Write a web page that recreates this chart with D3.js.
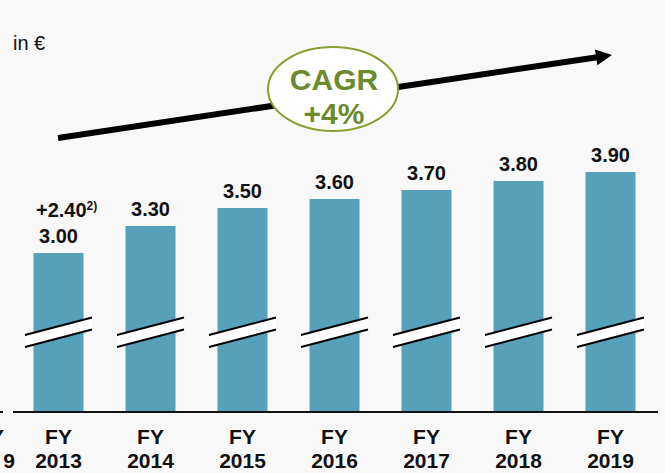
<!DOCTYPE html>
<html>
<head>
<meta charset="utf-8">
<script src="https://cdn.jsdelivr.net/npm/d3@7"></script>
<style>
  html, body { margin: 0; padding: 0; background: #f8f8f8; }
  svg { display: block; }
  text { font-family: Arial, "Liberation Sans", sans-serif; }
</style>
</head>
<body>
<script>
// ---- data ----
const years = ["2013", "2014", "2015", "2016", "2017", "2018", "2019"];
const values = [3.00, 3.30, 3.50, 3.60, 3.70, 3.80, 3.90];
const valueLabels = ["3.00", "3.30", "3.50", "3.60", "3.70", "3.80", "3.90"];
const specialYear = "2013";
const specialLabel = "+2.40";
const specialNote = "2)";
const unitLabel = "in €";
const cagrLines = ["CAGR", "+4%"];

// ---- layout ----
const W = 665, H = 473;
const baseY = 412;
const barW = 50;

const svg = d3.select("body").append("svg").attr("width", W).attr("height", H);
svg.append("rect").attr("width", W).attr("height", H).attr("fill", "#f8f8f8");

const x = d3.scalePoint().domain(years).range([58.5, 610.5]);
// broken value axis: 3.00 -> 253, 3.90 -> 172
const y = d3.scaleLinear().domain([3.0, 3.9]).range([253, 172]);

// unit
svg.append("text").attr("x", 13).attr("y", 50).attr("font-size", 20).attr("fill", "#111").text(unitLabel);

// bars
svg.selectAll("rect.bar").data(years).join("rect")
  .attr("class", "bar")
  .attr("x", d => x(d) - barW / 2)
  .attr("y", (d, i) => y(values[i]))
  .attr("width", barW)
  .attr("height", (d, i) => baseY - y(values[i]))
  .attr("fill", "#56a0b9");

// break marks
const brk = svg.append("g");
years.forEach(d => {
  const c = x(d);
  const x0 = c - 33.5, x1 = c + 33.5;
  brk.append("polygon")
    .attr("points", `${x0},335 ${x1},317.5 ${x1},329.5 ${x0},347`)
    .attr("fill", "#ffffff");
  brk.append("line").attr("x1", x0).attr("y1", 335).attr("x2", x1).attr("y2", 317.5)
    .attr("stroke", "#000").attr("stroke-width", 2);
  brk.append("line").attr("x1", x0).attr("y1", 347).attr("x2", x1).attr("y2", 329.5)
    .attr("stroke", "#000").attr("stroke-width", 2);
});

// axis line
svg.append("line").attr("x1", 13).attr("x2", 658).attr("y1", baseY).attr("y2", baseY)
  .attr("stroke", "#111").attr("stroke-width", 2);
svg.append("line").attr("x1", 0).attr("x2", 3).attr("y1", baseY).attr("y2", baseY)
  .attr("stroke", "#111").attr("stroke-width", 2);

// value labels
svg.selectAll("text.val").data(years).join("text")
  .attr("class", "val")
  .attr("x", d => x(d))
  .attr("y", (d, i) => y(values[i]) - 10)
  .attr("text-anchor", "middle")
  .attr("font-size", 20).attr("font-weight", "bold").attr("fill", "#111")
  .text((d, i) => valueLabels[i]);

// special dividend label
const sp = svg.append("text")
  .attr("x", x(specialYear) - 22.5)
  .attr("y", y(values[years.indexOf(specialYear)]) - 36.5)
  .attr("font-size", 20).attr("font-weight", "bold").attr("fill", "#111");
sp.append("tspan").text(specialLabel);
sp.append("tspan").attr("font-size", 12).attr("dy", -7).text(specialNote);

// x labels
const xl = svg.selectAll("g.xl").data(years).join("g").attr("class", "xl");
xl.append("text").attr("x", d => x(d)).attr("y", 444).attr("text-anchor", "middle")
  .attr("font-size", 21).attr("font-weight", "bold").attr("fill", "#111").text("FY");
xl.append("text").attr("x", d => x(d)).attr("y", 468).attr("text-anchor", "middle")
  .attr("font-size", 21).attr("font-weight", "bold").attr("fill", "#111").text(d => d);

// cut-off neighbouring label remnants at left edge
svg.append("text").attr("x", 4).attr("y", 444).attr("text-anchor", "end")
  .attr("font-size", 21).attr("font-weight", "bold").attr("fill", "#111").text("FY");
svg.append("text").attr("x", 15).attr("y", 468).attr("text-anchor", "end")
  .attr("font-size", 21).attr("font-weight", "bold").attr("fill", "#111").text("9");

// trend arrow
const ax0 = 58, ay0 = 138, tipX = 612, tipY = 55;
const ang = Math.atan2(tipY - ay0, tipX - ax0);
const hl = 16, hw = 8;
const bx = tipX - hl * Math.cos(ang), by = tipY - hl * Math.sin(ang);
svg.append("line").attr("x1", ax0).attr("y1", ay0).attr("x2", bx + 1 * Math.cos(ang)).attr("y2", by + 1 * Math.sin(ang))
  .attr("stroke", "#000").attr("stroke-width", 6);
svg.append("polygon")
  .attr("points", [
    [tipX, tipY],
    [bx + hw * Math.sin(ang), by - hw * Math.cos(ang)],
    [bx - hw * Math.sin(ang), by + hw * Math.cos(ang)]
  ].map(p => p.join(",")).join(" "))
  .attr("fill", "#000");

// CAGR bubble
svg.append("ellipse").attr("cx", 333).attr("cy", 89).attr("rx", 65).attr("ry", 42)
  .attr("fill", "#ffffff").attr("stroke", "#86a033").attr("stroke-width", 2);
svg.append("text").attr("x", 334).attr("y", 90).attr("text-anchor", "middle")
  .attr("font-size", 30).attr("font-weight", "bold").attr("fill", "#6a8a2d").text(cagrLines[0]);
svg.append("text").attr("x", 334).attr("y", 124).attr("text-anchor", "middle")
  .attr("font-size", 30).attr("font-weight", "bold").attr("fill", "#6a8a2d").text(cagrLines[1]);
</script>
</body>
</html>
